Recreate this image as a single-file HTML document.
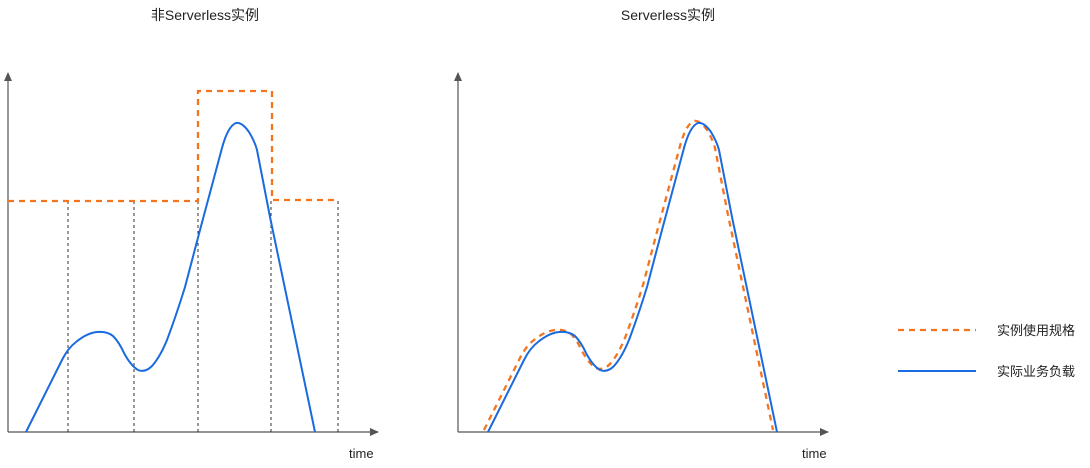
<!DOCTYPE html>
<html><head><meta charset="utf-8"><style>
html,body{margin:0;padding:0;background:#fff;}
svg text{font-family:"Liberation Sans","Noto Sans CJK SC",sans-serif;fill:#222;}
</style></head><body>
<svg width="1090" height="463" viewBox="0 0 1090 463" xmlns="http://www.w3.org/2000/svg">
<defs>
<marker id="ar" markerWidth="10" markerHeight="10" refX="8" refY="4" orient="auto" markerUnits="userSpaceOnUse"><path d="M0,0 L9,4 L0,8 Z" fill="#555"/></marker>
<path id="curve" d="M26,432 L62,360 Q68,348 76,342 Q87,333 97,332 Q107,331 113,336 Q119,342 124,353 Q131,366 138,370 Q145,373 152,366 Q160,357 167,340 Q176,316 185,287 L200,230 L222,148 Q228,126 236,123 Q242,122 249,132 Q255,142 257,150 L270,217 L315,432"/>
</defs>
<text x="205" y="20" font-size="14" text-anchor="middle">非Serverless实例</text>
<text x="668" y="20" font-size="14" text-anchor="middle">Serverless实例</text>
<line x1="8" y1="432" x2="8" y2="73" stroke="#555" stroke-width="1.2" marker-end="url(#ar)"/>
<line x1="8" y1="432" x2="378" y2="432" stroke="#555" stroke-width="1.2" marker-end="url(#ar)"/>
<g stroke="#333" stroke-width="1" stroke-dasharray="3,3">
<line x1="68" y1="201" x2="68" y2="432"/><line x1="134" y1="201" x2="134" y2="432"/>
<line x1="198" y1="201" x2="198" y2="432"/><line x1="271" y1="201" x2="271" y2="432"/>
<line x1="338" y1="201" x2="338" y2="432"/>
</g>
<path d="M8,201 L198,201 L198,91 L272,91 L272,200 L338,200" fill="none" stroke="#f5751f" stroke-width="2.3" stroke-dasharray="6,5"/>
<use href="#curve" fill="none" stroke="#1a6ae0" stroke-width="2"/>
<text x="349" y="458" font-size="13">time</text>
<line x1="458" y1="432" x2="458" y2="73" stroke="#555" stroke-width="1.2" marker-end="url(#ar)"/>
<line x1="458" y1="432" x2="828" y2="432" stroke="#555" stroke-width="1.2" marker-end="url(#ar)"/>
<use href="#curve" transform="translate(458,-2)" fill="none" stroke="#f5751f" stroke-width="2.3" stroke-dasharray="6,5"/>
<use href="#curve" transform="translate(462,0)" fill="none" stroke="#1a6ae0" stroke-width="2"/>
<text x="802" y="458" font-size="13">time</text>
<line x1="898" y1="330" x2="976" y2="330" stroke="#f5751f" stroke-width="2.3" stroke-dasharray="6,5"/>
<text x="997" y="335" font-size="13">实例使用规格</text>
<line x1="898" y1="371" x2="976" y2="371" stroke="#1a6ae0" stroke-width="2"/>
<text x="997" y="376" font-size="13">实际业务负载</text>
</svg>
</body></html>
